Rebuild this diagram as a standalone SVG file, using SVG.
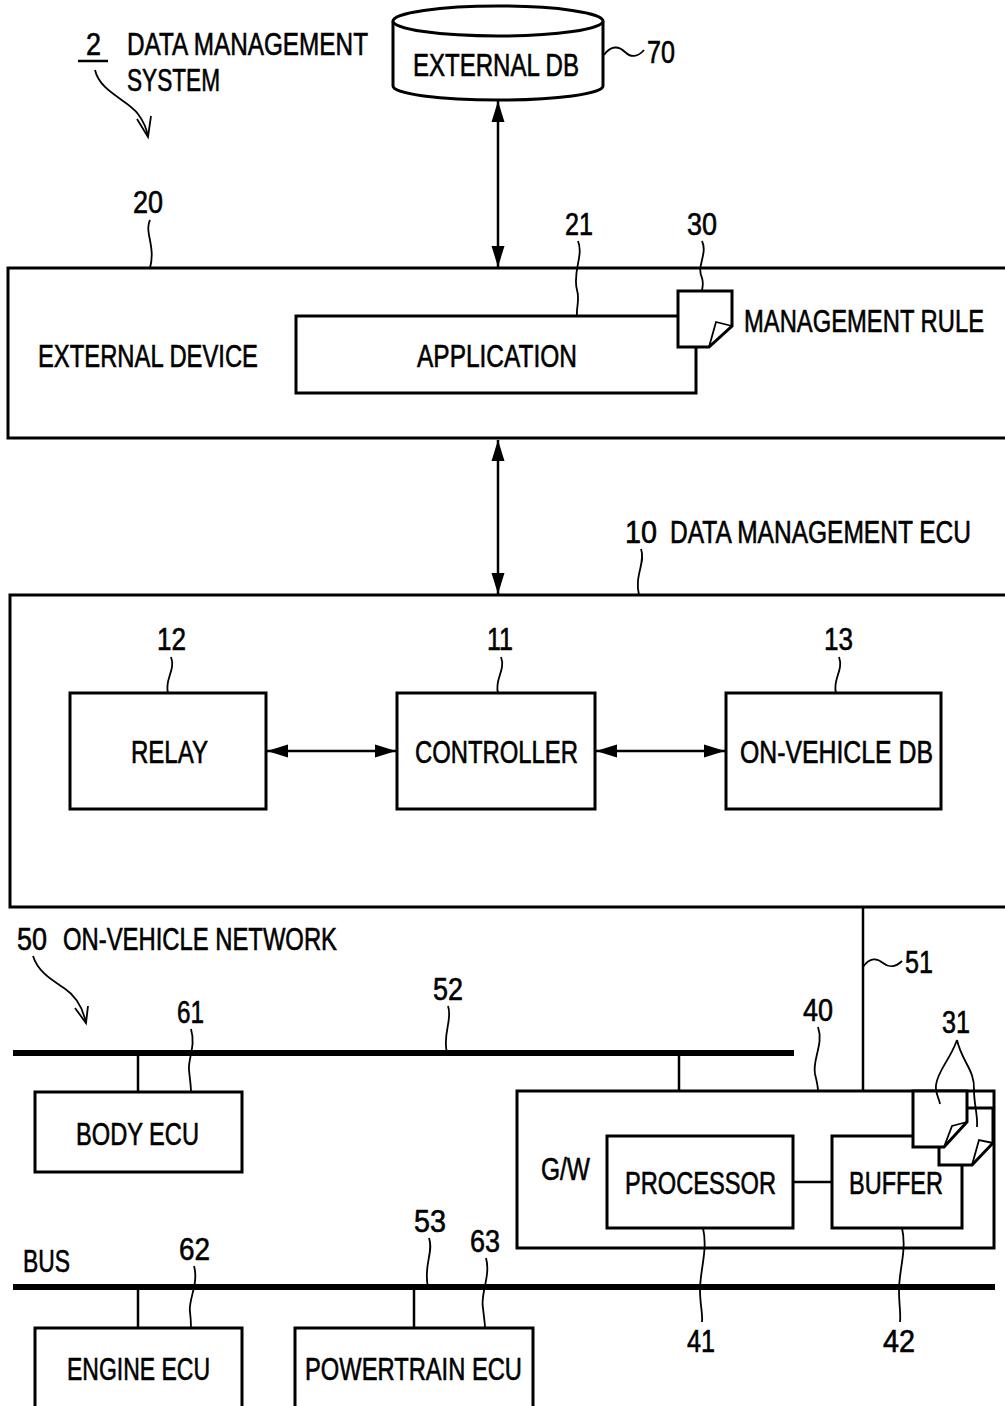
<svg xmlns="http://www.w3.org/2000/svg" width="1005" height="1406" viewBox="0 0 1005 1406">
<style>
.t{font-family:"Liberation Sans",Arial,sans-serif;font-size:31px;fill:#000;stroke:#000;stroke-width:0.6}
.box{fill:none;stroke:#000;stroke-width:3}
.wbox{fill:#fff;stroke:#000;stroke-width:3;stroke-linejoin:miter}
.ln{fill:none;stroke:#000;stroke-width:2.5}
.bus{fill:none;stroke:#000;stroke-width:6}
.ld{fill:none;stroke:#000;stroke-width:1.8}
.arr{fill:none;stroke:#000;stroke-width:2.5;marker-start:url(#ah);marker-end:url(#ah)}
</style>
<defs>
<marker id="ah" markerUnits="userSpaceOnUse" markerWidth="22" markerHeight="14" refX="21" refY="7" orient="auto-start-reverse">
<path d="M0,0.5 L21,7 L0,13.5 z" fill="#000"/>
</marker>
</defs>
<rect width="1005" height="1406" fill="#fff"/>

<g id="title">
<text class="t" x="86" y="55" textLength="15" lengthAdjust="spacingAndGlyphs">2</text>
<line x1="78" y1="61" x2="108" y2="61" stroke="#000" stroke-width="2.5"/>
<text class="t" x="127" y="55" textLength="241" lengthAdjust="spacingAndGlyphs">DATA MANAGEMENT</text>
<text class="t" x="127" y="91" textLength="93" lengthAdjust="spacingAndGlyphs">SYSTEM</text>
<path class="ld" d="M95,70 C100,92 128,100 138,114 C144,122 147,130 148,137"/>
<path class="ld" d="M137,119 L148,137 L151,116"/>
</g>

<g id="external-db">
<path class="wbox" d="M393,21 V86 A105,14 0 0 0 603,86 V21"/>
<ellipse cx="498" cy="21" rx="105" ry="15" fill="#fff" stroke="#000" stroke-width="3"/>
<text class="t" x="413" y="76" textLength="166" lengthAdjust="spacingAndGlyphs">EXTERNAL DB</text>
<path class="ld" d="M604,55 C611,45 619,46 625,52 C631,58 638,57 644,50"/>
<text class="t" x="647" y="63" textLength="28" lengthAdjust="spacingAndGlyphs">70</text>
</g>

<g id="external-device">
<rect class="box" x="8" y="268" width="1010" height="170"/>
<text class="t" x="38" y="367" textLength="220" lengthAdjust="spacingAndGlyphs">EXTERNAL DEVICE</text>
<text class="t" x="133" y="213" textLength="30" lengthAdjust="spacingAndGlyphs">20</text>
<path class="ld" d="M150,220 C144,232 156,246 150,268"/>
</g>

<g id="application">
<path class="box" d="M678,316 H296 V393 H696 V347"/>
<text class="t" x="417" y="367" textLength="160" lengthAdjust="spacingAndGlyphs">APPLICATION</text>
<text class="t" x="565" y="235" textLength="28" lengthAdjust="spacingAndGlyphs">21</text>
<path class="ld" d="M578,241 C584,256 572,272 577,290 C580,300 576,308 577,316"/>
</g>

<g id="management-rule">
<path class="wbox" d="M678,291 H732 V326 L709,347 H678 Z"/>
<path class="ld" d="M732,326 L716,322 L709,347" stroke-width="2.5"/>
<text class="t" x="744" y="332" textLength="240" lengthAdjust="spacingAndGlyphs">MANAGEMENT RULE</text>
<text class="t" x="687" y="235" textLength="30" lengthAdjust="spacingAndGlyphs">30</text>
<path class="ld" d="M702,241 C708,254 696,266 702,278 C704,284 702,288 702,291"/>
</g>

<g id="data-management-ecu">
<rect class="box" x="10" y="595" width="1010" height="312"/>
<text class="t" x="625" y="543" textLength="32" lengthAdjust="spacingAndGlyphs">10</text>
<text class="t" x="670" y="543" textLength="301" lengthAdjust="spacingAndGlyphs">DATA MANAGEMENT ECU</text>
<path class="ld" d="M641,549 C646,562 634,576 639,595"/>
</g>

<g id="relay">
<rect class="box" x="70" y="693" width="196" height="116"/>
<text class="t" x="131" y="763" textLength="77" lengthAdjust="spacingAndGlyphs">RELAY</text>
<text class="t" x="157" y="650" textLength="29" lengthAdjust="spacingAndGlyphs">12</text>
<path class="ld" d="M171,657 C176,670 164,680 168,693"/>
</g>

<g id="controller">
<rect class="box" x="397" y="693" width="198" height="116"/>
<text class="t" x="415" y="763" textLength="163" lengthAdjust="spacingAndGlyphs">CONTROLLER</text>
<text class="t" x="487" y="650" textLength="26" lengthAdjust="spacingAndGlyphs">11</text>
<path class="ld" d="M501,657 C506,670 494,680 498,693"/>
</g>

<g id="on-vehicle-db">
<rect class="box" x="726" y="693" width="215" height="116"/>
<text class="t" x="740" y="763" textLength="193" lengthAdjust="spacingAndGlyphs">ON-VEHICLE DB</text>
<text class="t" x="824" y="650" textLength="29" lengthAdjust="spacingAndGlyphs">13</text>
<path class="ld" d="M839,657 C844,670 832,680 836,693"/>
</g>

<g id="network-label">
<text class="t" x="17" y="950" textLength="30" lengthAdjust="spacingAndGlyphs">50</text>
<text class="t" x="63" y="950" textLength="274" lengthAdjust="spacingAndGlyphs">ON-VEHICLE NETWORK</text>
<path class="ld" d="M33,956 C38,972 52,980 64,988 C76,996 83,1008 86,1023"/>
<path class="ld" d="M75,1008 L86,1023 L88,1006"/>
<text class="t" x="433" y="1000" textLength="30" lengthAdjust="spacingAndGlyphs">52</text>
<path class="ld" d="M448,1006 C453,1020 442,1034 447,1053"/>
<text class="t" x="905" y="973" textLength="28" lengthAdjust="spacingAndGlyphs">51</text>
<path class="ld" d="M863,967 C870,957 877,958 883,963 C889,968 896,967 902,961"/>
<text class="t" x="23" y="1272" textLength="47" lengthAdjust="spacingAndGlyphs">BUS</text>
<text class="t" x="414" y="1232" textLength="32" lengthAdjust="spacingAndGlyphs">53</text>
<path class="ld" d="M429,1238 C434,1252 423,1266 428,1287"/>
</g>

<g id="body-ecu">
<rect class="box" x="35" y="1092" width="207" height="80"/>
<text class="t" x="76" y="1145" textLength="123" lengthAdjust="spacingAndGlyphs">BODY ECU</text>
<text class="t" x="177" y="1023" textLength="27" lengthAdjust="spacingAndGlyphs">61</text>
<path class="ld" d="M191,1029 C196,1046 188,1058 189,1070 C190,1080 191,1086 191,1092"/>
</g>

<g id="gateway">
<rect class="box" x="517" y="1091" width="477" height="157"/>
<text class="t" x="541" y="1180" textLength="49" lengthAdjust="spacingAndGlyphs">G/W</text>
<text class="t" x="803" y="1021" textLength="30" lengthAdjust="spacingAndGlyphs">40</text>
<path class="ld" d="M818,1027 C824,1044 812,1060 815,1074 C817,1082 818,1087 818,1091"/>
</g>

<g id="processor">
<rect class="box" x="607" y="1136" width="186" height="92"/>
<text class="t" x="625" y="1194" textLength="151" lengthAdjust="spacingAndGlyphs">PROCESSOR</text>
<text class="t" x="687" y="1352" textLength="28" lengthAdjust="spacingAndGlyphs">41</text>
<path class="ld" d="M703,1228 C708,1250 700,1270 700,1290 C700,1305 703,1314 702,1322"/>
</g>

<g id="buffer">
<path class="box" d="M913,1136 H832 V1228 H962 V1165"/>
<text class="t" x="849" y="1194" textLength="94" lengthAdjust="spacingAndGlyphs">BUFFER</text>
<text class="t" x="883" y="1352" textLength="32" lengthAdjust="spacingAndGlyphs">42</text>
<path class="ld" d="M902,1228 C907,1250 899,1270 899,1290 C899,1305 901,1314 900,1322"/>
</g>

<g id="rules-31">
<path class="wbox" d="M939,1140 V1165 H972 L993,1143 V1108 H960 Z"/>
<path class="ld" d="M993,1143 L979,1140 L972,1165" stroke-width="2.5"/>
<path class="wbox" d="M913,1091 H967 V1122 L944,1147 H913 Z"/>
<path class="ld" d="M967,1122 L952,1126 L944,1147" stroke-width="2.5"/>
<text class="t" x="942" y="1033" textLength="28" lengthAdjust="spacingAndGlyphs">31</text>
<path class="ld" d="M957,1040 C950,1060 938,1070 936,1085 C935,1093 939,1098 940,1104"/>
<path class="ld" d="M957,1040 C962,1062 975,1070 974,1090 C974,1105 978,1115 977,1127"/>
</g>

<g id="engine-ecu">
<path class="box" d="M35,1410 V1328 H242 V1410"/>
<text class="t" x="67" y="1380" textLength="143" lengthAdjust="spacingAndGlyphs">ENGINE ECU</text>
<text class="t" x="179" y="1260" textLength="31" lengthAdjust="spacingAndGlyphs">62</text>
<path class="ld" d="M194,1266 C199,1284 188,1300 190,1312 C191,1320 191,1324 191,1328"/>
</g>

<g id="powertrain-ecu">
<path class="box" d="M295,1410 V1328 H533 V1410"/>
<text class="t" x="305" y="1380" textLength="217" lengthAdjust="spacingAndGlyphs">POWERTRAIN ECU</text>
<text class="t" x="470" y="1252" textLength="30" lengthAdjust="spacingAndGlyphs">63</text>
<path class="ld" d="M486,1258 C491,1276 480,1294 483,1308 C484,1318 485,1323 485,1328"/>
</g>

<g id="connectors">
<line class="arr" x1="498" y1="101" x2="498" y2="267"/>
<line class="arr" x1="498" y1="440" x2="498" y2="594"/>
<line class="arr" x1="267" y1="751" x2="396" y2="751"/>
<line class="arr" x1="596" y1="751" x2="725" y2="751"/>
<line class="bus" x1="13" y1="1053" x2="794" y2="1053"/>
<line class="bus" x1="13" y1="1287" x2="995" y2="1287"/>
<line class="ln" x1="138" y1="1053" x2="138" y2="1092"/>
<line class="ln" x1="679" y1="1053" x2="679" y2="1091"/>
<line class="ln" x1="863" y1="907" x2="863" y2="1091"/>
<line class="ln" x1="138" y1="1287" x2="138" y2="1328"/>
<line class="ln" x1="414" y1="1287" x2="414" y2="1328"/>
<line class="ln" x1="793" y1="1182" x2="832" y2="1182"/>
</g>
</svg>
